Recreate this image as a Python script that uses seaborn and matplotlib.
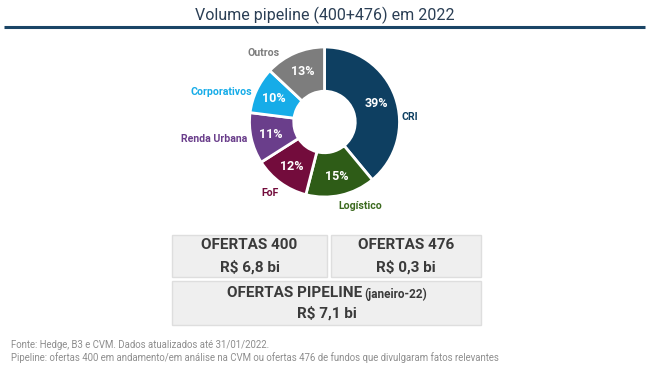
import numpy as np
import seaborn as sns
import matplotlib.pyplot as plt
from matplotlib.patches import Rectangle

# data
categories = ["CRI", "Logístico", "FoF", "Renda Urbana", "Corporativos", "Outros"]
shares = [39, 15, 12, 11, 10, 13]
colors = ["#0E3F61", "#2E5C17", "#730C3C", "#6A3E8B", "#16ACE8", "#7D7D7D"]
label_colors = ["#0E3F61", "#3C6A1F", "#730C3C", "#6A3E8B", "#16ACE8", "#7D7D7D"]

box_titles = ["OFERTAS 400", "OFERTAS 476", "OFERTAS PIPELINE"]
box_values = ["R$ 6,8 bi", "R$ 0,3 bi", "R$ 7,1 bi"]
box_note = "(janeiro-22)"

title = "Volume pipeline (400+476) em 2022"
footer = ["Fonte: Hedge, B3 e CVM. Dados atualizados até 31/01/2022.",
          "Pipeline: ofertas 400 em andamento/em análise na CVM ou ofertas 476 de fundos que divulgaram fatos relevantes"]

sns.set_theme(style="white")
plt.rcParams['font.family'] = ['Roboto', 'DejaVu Sans']

W, H = 653, 378
fig = plt.figure(figsize=(W / 100, H / 100), dpi=100)
fig.patch.set_facecolor("white")

# background axes in pixel coordinates
bg = fig.add_axes([0, 0, 1, 1])
bg.set_xlim(0, W)
bg.set_ylim(H, 0)
bg.axis("off")

bg.text(325, 15, title, ha="center", va="center", fontsize=11.5, color="#2B3F55")
bg.plot([4, 645], [26.5, 26.5], color="#1A4566", lw=2.2, solid_capstyle="butt")

# info boxes
box_fill, box_edge, txt_col = "#EFEFEF", "#DEDEDE", "#3A3A3A"
boxes = [(172, 235, 155, 42), (331, 235, 150, 42), (172, 281, 309, 44)]
for (x, y, w, h) in boxes:
    bg.add_patch(Rectangle((x, y), w, h, facecolor=box_fill, edgecolor=box_edge, lw=1))

bg.text(249.5, 245, box_titles[0], ha="center", va="center", fontsize=11, fontweight="bold", color=txt_col)
bg.text(249.5, 267, box_values[0], ha="center", va="center", fontsize=11, fontweight="bold", color=txt_col)
bg.text(406, 245, box_titles[1], ha="center", va="center", fontsize=11, fontweight="bold", color=txt_col)
bg.text(406, 267, box_values[1], ha="center", va="center", fontsize=11, fontweight="bold", color=txt_col)
bg.text(362, 293, box_titles[2], ha="right", va="center", fontsize=11, fontweight="bold", color=txt_col)
bg.text(364, 294, box_note, ha="left", va="center", fontsize=8.5, fontweight="bold", color=txt_col)
bg.text(326.5, 313, box_values[2], ha="center", va="center", fontsize=11, fontweight="bold", color=txt_col)

bg.text(11, 345, footer[0], ha="left", va="center", fontsize=6.9, color="#8E8E8E")
bg.text(11, 358, footer[1], ha="left", va="center", fontsize=6.9, color="#8E8E8E")

# donut: 1 unit = 75 px, centre at (324.5, 122)
cx, cy, R = 324.5, 122, 75
ax = fig.add_axes([(cx - 2 * R) / W, (H - cy - 2 * R) / H, 4 * R / W, 4 * R / H])
wedges, _, pcts = ax.pie(
    shares, colors=colors, startangle=90, counterclock=False, radius=1,
    autopct=lambda p: f"{p:.0f}%", pctdistance=0.74,
    wedgeprops=dict(width=0.59, edgecolor="white", linewidth=2),
    textprops=dict(color="white", fontsize=9, fontweight="bold"))
ax.set_xlim(-2, 2)
ax.set_ylim(-2, 2)
ax.set_aspect("equal")
ax.axis("off")

label_pos = {
    "CRI": (1.03, 0.07, "left"),
    "Logístico": (0.48, -1.12, "center"),
    "FoF": (-0.73, -0.95, "center"),
    "Renda Urbana": (-1.03, -0.23, "right"),
    "Corporativos": (-0.97, 0.40, "right"),
    "Outros": (-0.81, 0.92, "center"),
}
for name, col in zip(categories, label_colors):
    x, y, ha = label_pos[name]
    ax.text(x, y, name, ha=ha, va="center", fontsize=7.6, fontweight="bold", color=col)

fig.savefig("out.png", dpi=100, facecolor="white")
